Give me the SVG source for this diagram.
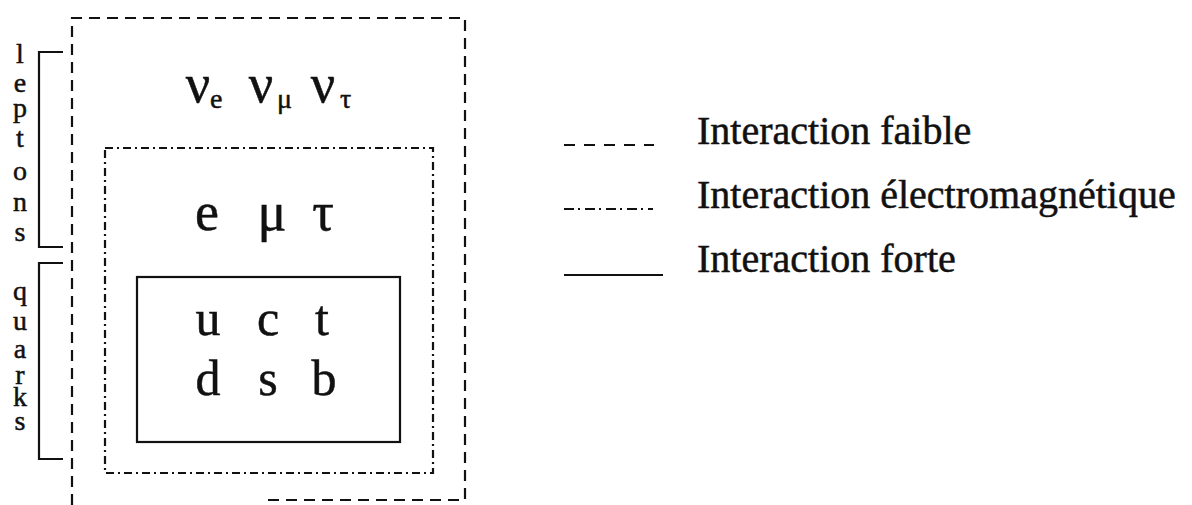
<svg xmlns="http://www.w3.org/2000/svg" width="1192" height="505" viewBox="0 0 1192 505">
  <style>
    .txt { font-family: "Liberation Serif", "Times New Roman", serif; fill: #111; stroke: #111; stroke-width: 0.5; }
    .side { font-size: 28px; text-anchor: middle; }
    .big { font-size: 54px; text-anchor: middle; }
    .quark { font-size: 50px; text-anchor: middle; }
    .sub { font-size: 28px; }
    .legend { font-size: 40px; }
    .weak { fill: none; stroke: #111; stroke-width: 2.2; stroke-dasharray: 11 7; }
    .em { fill: none; stroke: #111; stroke-width: 2.2; stroke-dasharray: 8 4 2 4; }
    .strong { fill: none; stroke: #111; stroke-width: 2.2; }
    .bracket { fill: none; stroke: #111; stroke-width: 2.2; }
  </style>

  <!-- interaction boundaries -->
  <g id="connectors">
    <path id="weak-box" class="weak" d="M72,505 V18 H465 V500 H265"/>
    <rect id="em-box" class="em" x="105" y="148" width="328" height="325"/>
    <rect id="strong-box" class="strong" x="137" y="277" width="263" height="165"/>
    <path id="leptons-bracket" class="bracket" d="M63,52 H39 V247 H63"/>
    <path id="quarks-bracket" class="bracket" d="M63,263 H39 V459 H63"/>
  </g>

  <!-- vertical family labels -->
  <g id="leptons-label" class="txt side">
    <text x="20" y="63">l</text>
    <text x="20" y="92">e</text>
    <text x="20" y="117">p</text>
    <text x="20" y="147">t</text>
    <text x="20" y="180">o</text>
    <text x="20" y="211">n</text>
    <text x="20" y="241">s</text>
  </g>
  <g id="quarks-label" class="txt side">
    <text x="20" y="300">q</text>
    <text x="20" y="330">u</text>
    <text x="20" y="358">a</text>
    <text x="20" y="384">r</text>
    <text x="20" y="406">k</text>
    <text x="20" y="430">s</text>
  </g>

  <!-- neutrinos -->
  <g id="neutrinos" class="txt">
    <text class="big" x="198" y="102">ν</text>
    <text class="sub" x="210" y="108">e</text>
    <text class="big" x="261" y="102">ν</text>
    <text class="sub" x="277" y="108">μ</text>
    <text class="big" x="323" y="102">ν</text>
    <text class="sub" x="340" y="108">τ</text>
  </g>

  <!-- charged leptons -->
  <g id="charged-leptons" class="txt big">
    <text x="207" y="230">e</text>
    <text x="272" y="230">μ</text>
    <text x="323" y="230">τ</text>
  </g>

  <!-- quarks -->
  <g id="quarks" class="txt quark">
    <text x="208" y="335">u</text>
    <text x="268" y="335">c</text>
    <text x="322" y="335">t</text>
    <text x="208" y="395">d</text>
    <text x="268" y="395">s</text>
    <text x="324" y="395">b</text>
  </g>

  <!-- legend -->
  <g id="legend">
    <line class="weak" x1="564" y1="145" x2="654" y2="145" style="stroke-dasharray: 11 9"/>
    <line class="em" x1="564" y1="209" x2="653" y2="209" style="stroke-dasharray: 10 4 2 5"/>
    <line class="strong" x1="564" y1="275" x2="663" y2="275"/>
    <text class="txt legend" x="697" y="144">Interaction faible</text>
    <text class="txt legend" x="697" y="208">Interaction électromagnétique</text>
    <text class="txt legend" x="697" y="272">Interaction forte</text>
  </g>
</svg>
